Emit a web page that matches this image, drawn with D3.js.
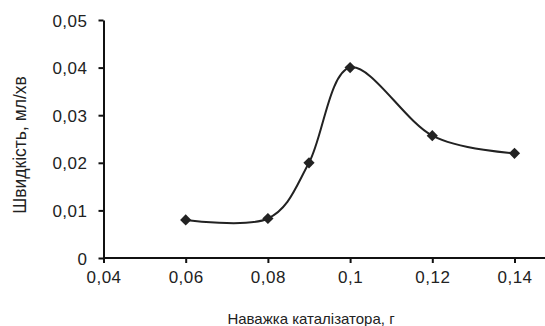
<!DOCTYPE html>
<html>
<head>
<meta charset="utf-8">
<script src="https://cdn.jsdelivr.net/npm/d3@7"></script>
<style>
    body { margin: 0; background: #fff; }
    text { font-family: "Liberation Sans", Arial, sans-serif; fill: #222; }
</style>
</head>
<body>
<svg id="chart" width="545" height="326"></svg>
<script>
// catalyst mass, g
const masses = [0.06, 0.08, 0.09, 0.1, 0.12, 0.14];
// rate, ml/min
const rates = [0.008, 0.0083, 0.02, 0.04, 0.0257, 0.022];
const xTicks = [0.04, 0.06, 0.08, 0.1, 0.12, 0.14];
const yTicks = [0, 0.01, 0.02, 0.03, 0.04, 0.05];

let svg = d3.select('svg#chart');

let xScale = d3.scaleLinear().domain([0.04, 0.14]).range([103.5, 514.5]);
let yScale = d3.scaleLinear().domain([0, 0.05]).range([258, 20]);

let fmt = d => String(d).replace('.', ',');

// x axis, line runs on to the right edge
let xAxis = d3.axisBottom(xScale).tickValues(xTicks).tickFormat(fmt).tickSize(5).tickSizeOuter(0);
let gx = svg.append('g').attr('transform', 'translate(0,258)').call(xAxis);
gx.select('.domain').attr('d', 'M' + xScale(0.04) + ',0H545');
gx.selectAll('line, path').attr('stroke', '#111').attr('stroke-width', 2);
gx.selectAll('text').attr('dy', null).attr('y', 25);

let yAxis = d3.axisLeft(yScale).tickValues(yTicks).tickFormat(fmt).tickSize(5).tickSizeOuter(0);
let gy = svg.append('g').attr('transform', 'translate(' + xScale(0.04) + ',0)').call(yAxis);
gy.selectAll('line, path').attr('stroke', '#111').attr('stroke-width', 2);
gy.selectAll('text').attr('x', -16).attr('dy', '0.36em');

svg.selectAll('.tick text')
    .style('font-family', '"Liberation Sans", Arial, sans-serif')
    .style('font-size', '17px')
    .style('letter-spacing', '0.5px')
    .attr('fill', '#222');

// axis titles
svg.append('text')
    .attr('x', 311).attr('y', 324)
    .attr('text-anchor', 'middle')
    .style('font-size', '15px')
    .text('Наважка каталізатора, г');
svg.append('text')
    .attr('transform', 'translate(26,145) rotate(-90)')
    .attr('text-anchor', 'middle')
    .style('font-size', '17.5px')
    .text('Швидкість, мл/хв');

let data = masses.map((m, i) => ({x: m, y: rates[i]}));

let line = d3.line()
    .x(d => xScale(d.x))
    .y(d => yScale(d.y))
    .curve(d3.curveCatmullRom.alpha(0));

svg.append('path')
    .datum(data)
    .attr('d', line)
    .attr('fill', 'none')
    .attr('stroke', '#222')
    .attr('stroke-width', 2);

svg.append('g').selectAll('path.marker')
    .data(data)
    .enter().append('path')
    .attr('class', 'marker')
    .attr('d', d3.symbol(d3.symbolDiamond2, 80))
    .attr('transform', d => 'translate(' + xScale(d.x) + ',' + yScale(d.y) + ')')
    .attr('fill', '#222');
</script>
</body>
</html>
